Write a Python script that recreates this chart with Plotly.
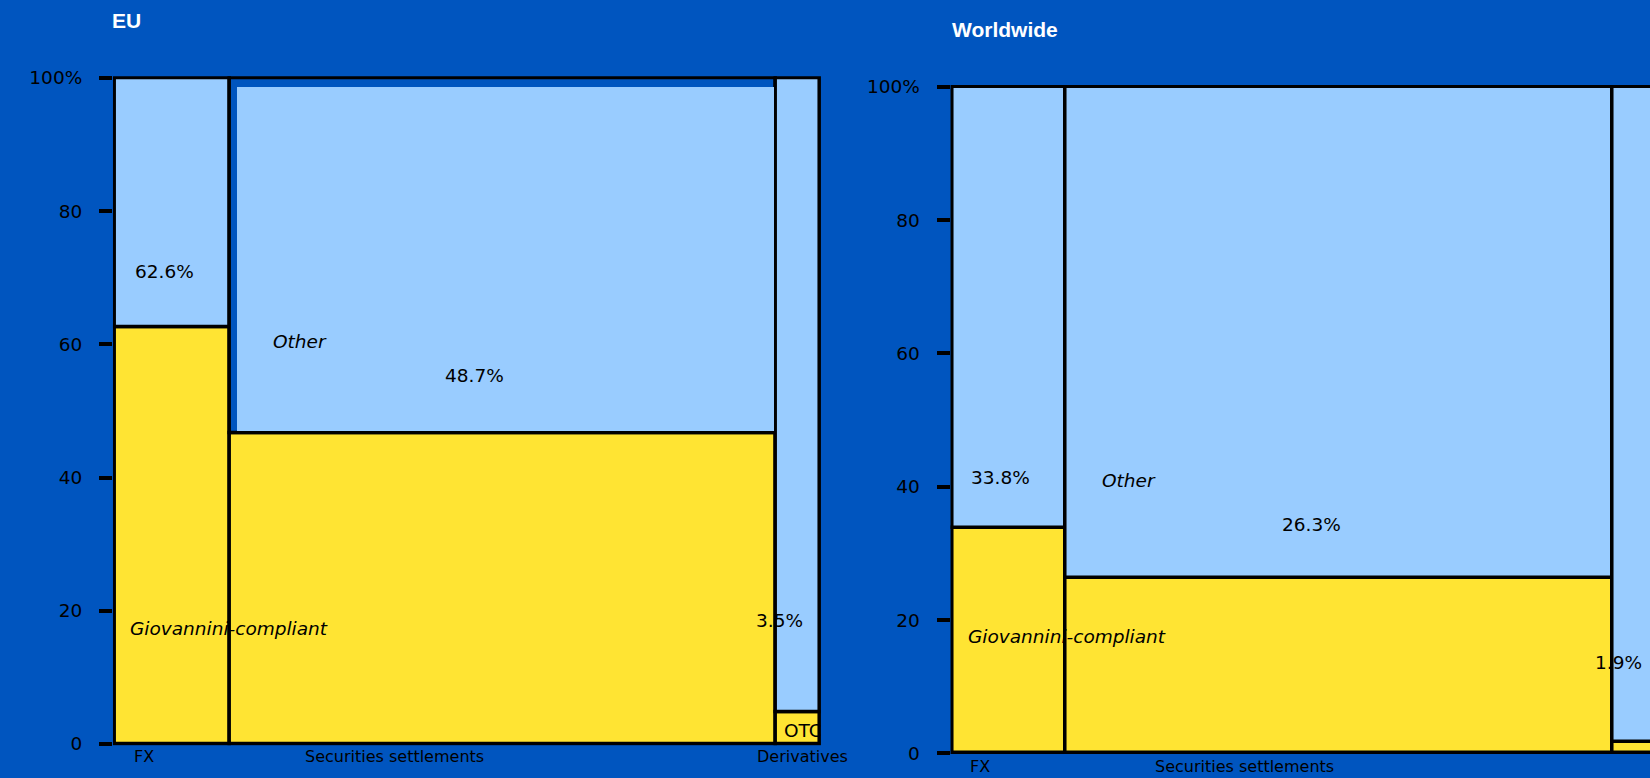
import plotly.graph_objects as go

# ---- data ----
categories = ["FX", "Securities settlements", "Derivatives"]
eu_widths = [16.3, 77.5, 6.2]
eu_compliant = [62.6, 46.7, 4.7]
ww_widths = [16.1, 77.6, 6.3]
ww_compliant = [33.8, 26.3, 1.7]
eu_value_labels = ["62.6%", "48.7%", "3.5%"]
ww_value_labels = ["33.8%", "26.3%", "1.9%"]
tick_vals = [0, 20, 40, 60, 80, 100]
tick_text = ["0", "20", "40", "60", "80", "100%"]

BG = "#0055BF"
LIGHT = "#99CCFF"
YELLOW = "#FFE433"
FONT = "DejaVu Sans"
LW = 3.5

fig = go.Figure()


def add_mekko(widths, compliant, xa, ya, inset_idx=None):
    lefts = []
    acc = 0
    for w in widths:
        lefts.append(acc)
        acc += w
    centers = [l + w / 2 for l, w in zip(lefts, widths)]
    other = [100 - c for c in compliant]
    fig.add_trace(go.Bar(x=centers, y=compliant, base=[0] * len(widths), width=widths,
                         marker=dict(color=YELLOW, line=dict(color="black", width=LW)),
                         xaxis=xa, yaxis=ya, showlegend=False, hoverinfo="skip"))
    colors = [LIGHT] * len(widths)
    if inset_idx is not None:
        colors[inset_idx] = BG
    fig.add_trace(go.Bar(x=centers, y=other, base=compliant, width=widths,
                         marker=dict(color=colors, line=dict(color="black", width=LW)),
                         xaxis=xa, yaxis=ya, showlegend=False, hoverinfo="skip"))
    if inset_idx is not None:
        # the light "Other" block of this column sits slightly inset in the reference
        i = inset_idx
        gap_l, gap_t, gap_r, gap_b = 1.05, 1.4, 0.25, 0.25
        x0 = lefts[i] + gap_l
        x1 = lefts[i] + widths[i] - gap_r
        y0 = compliant[i] + gap_b
        y1 = 100 - gap_t
        fig.add_trace(go.Bar(x=[(x0 + x1) / 2], y=[y1 - y0], base=[y0], width=[x1 - x0],
                             marker=dict(color=LIGHT, line=dict(width=0)),
                             xaxis=xa, yaxis=ya, showlegend=False, hoverinfo="skip"))
    return lefts, centers


eu_lefts, eu_centers = add_mekko(eu_widths, eu_compliant, "x", "y", inset_idx=1)
ww_lefts, ww_centers = add_mekko(ww_widths, ww_compliant, "x2", "y2")

ax_common = dict(showgrid=False, zeroline=False, automargin=False, fixedrange=True)
yax = dict(tickmode="array", tickvals=tick_vals, ticktext=tick_text, ticks="outside",
           ticklen=13, tickwidth=LW, tickcolor="black", showline=False,
           tickfont=dict(family=FONT, size=18.5, color="black"), ticklabelstandoff=13,
           **ax_common)
xax = dict(showticklabels=False, ticks="", showline=False, **ax_common)

fig.update_layout(
    width=1650, height=778, autosize=False,
    margin=dict(l=0, r=0, t=0, b=0, pad=0),
    paper_bgcolor=BG, plot_bgcolor=BG,
    barmode="overlay", bargap=0,
    xaxis=dict(domain=[0.06845, 0.49806], range=[-0.25, 100.3], anchor="y", **xax),
    yaxis=dict(domain=[0.04156, 0.9020], range=[-0.25, 100.25], anchor="x", **yax),
    xaxis2=dict(domain=[0.57608, 1.0], range=[-0.25, 98.97], anchor="y2", **xax),
    yaxis2=dict(domain=[0.02947, 0.8907], range=[-0.25, 100.25], anchor="x2", **yax),
)

ann = []
txt = dict(family=FONT, size=18.5, color="black")
txti = dict(family=FONT, size=18.5, color="black", style="italic")

# titles
ann.append(dict(text="<b>EU</b>", xref="paper", yref="paper", x=110 / 1650, y=1 - 21 / 778,
                xanchor="left", yanchor="middle",
                font=dict(family="Liberation Sans", size=21, color="white")))
ann.append(dict(text="<b>Worldwide</b>", xref="paper", yref="paper", x=950 / 1650, y=1 - 29.5 / 778,
                xanchor="left", yanchor="middle",
                font=dict(family="Liberation Sans", size=21, color="white")))

# EU in-chart labels
ann += [
    dict(text=eu_value_labels[0], x=7.0, y=70.9, xref="x", yref="y", font=txt),
    dict(text="Other", x=22.2, y=60.5, xref="x", yref="y", xanchor="left", font=txti),
    dict(text=eu_value_labels[1], x=51.0, y=55.3, xref="x", yref="y", font=txt),
    dict(text="Giovannini-compliant", x=1.94, y=17.4, xref="x", yref="y", xanchor="left", font=txti),
    dict(text=eu_value_labels[2], x=94.3, y=18.6, xref="x", yref="y", font=txt),
    dict(text="OTC", x=94.6, y=2.05, xref="x", yref="y", xanchor="left", font=txt),
]
# WW in-chart labels
ann += [
    dict(text=ww_value_labels[0], x=6.87, y=41.35, xref="x2", yref="y2", font=txt),
    dict(text="Other", x=21.0, y=41.0, xref="x2", yref="y2", xanchor="left", font=txti),
    dict(text=ww_value_labels[1], x=51.0, y=34.4, xref="x2", yref="y2", font=txt),
    dict(text="Giovannini-compliant", x=1.94, y=17.5, xref="x2", yref="y2", xanchor="left", font=txti),
    dict(text=ww_value_labels[2], x=94.5, y=13.7, xref="x2", yref="y2", font=txt),
]
# category labels under the axes
catf = dict(family=FONT, size=16, color="black")
eu_cat_x = [4.2, 39.7, 97.5]
for c, xv in zip(categories, eu_cat_x):
    ann.append(dict(text=c, x=xv, y=1 - 756 / 778, xref="x", yref="paper",
                    yanchor="middle", font=catf))
ww_cat_x = [4.0, 41.5]
for c, xv in zip(categories[:2], ww_cat_x):
    ann.append(dict(text=c, x=xv, y=1 - 766 / 778, xref="x2", yref="paper",
                    yanchor="middle", font=catf))

for a in ann:
    a.setdefault("showarrow", False)
fig.update_layout(annotations=ann)

fig.write_html(
    "out.html",
    config={"displayModeBar": False, "responsive": False},
    post_script="document.body.style.margin='0';document.body.style.padding='0';"
                "document.body.style.overflow='hidden';document.body.style.background='" + BG + "';",
)
